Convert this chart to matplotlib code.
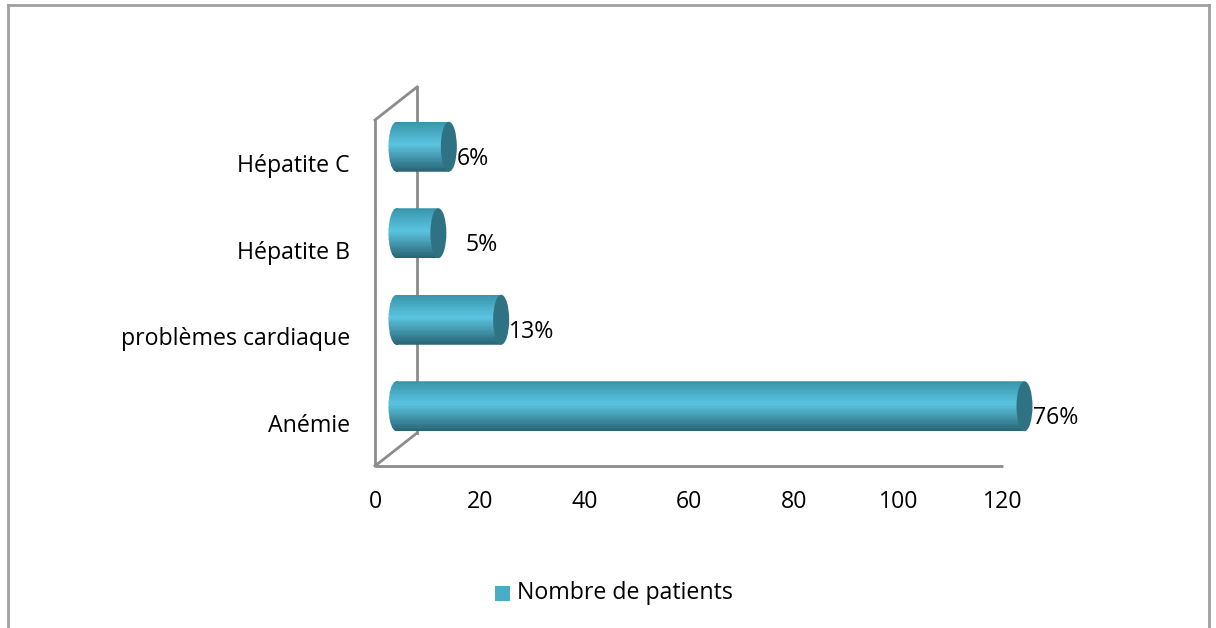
import matplotlib
matplotlib.use("Agg")
import matplotlib.pyplot as plt
import matplotlib.transforms as mtransforms
from matplotlib.patches import Rectangle, Ellipse, PathPatch
from matplotlib.path import Path
from matplotlib.lines import Line2D
import numpy as np

# Data
categories = ["Anémie", "problèmes cardiaque", "Hépatite B", "Hépatite C"]
patients = [120, 20, 8, 10]
x_ticks = [0, 20, 40, 60, 80, 100, 120]
series_name = "Nombre de patients"
label_nudge_px = [0, 0, 19, 0]

total = sum(patients)
percents = [round(100 * v / total) for v in patients]

plt.rcParams["font.family"] = ["Open Sans", "DejaVu Sans"]
FS = 16.7

W, H = 1216, 628
fig = plt.figure(figsize=(W / 100, H / 100), dpi=100)
fig.patch.set_facecolor("white")

# front plane of the 3-D plot area, in pixels
px_left, px_right, px_top, px_bottom = 375, 1003, 120, 466
ax = fig.add_axes([px_left / W, 1 - px_bottom / H,
                   (px_right - px_left) / W, (px_bottom - px_top) / H])
ax.set_xlim(0, 120)
ax.set_ylim(0, len(categories))
ax.axis("off")

px_per_unit = (px_right - px_left) / 120.0
px_per_cat = (px_bottom - px_top) / len(categories)

grey = "#8c8c8c"
depth_dx, depth_dy = 42, 33  # back wall offset (px, right / up)

def pix_offset(dx, dy):
    return ax.transData + mtransforms.ScaledTranslation(dx / 100, dy / 100, fig.dpi_scale_trans)

back = pix_offset(depth_dx, depth_dy)
# walls and floor edges
ax.plot([0, 0], [0, len(categories)], color=grey, lw=2, clip_on=False, solid_capstyle="butt")
ax.plot([0, 120], [0, 0], color=grey, lw=2, clip_on=False, solid_capstyle="butt")
ax.plot([0, 0], [0, len(categories)], color=grey, lw=2, clip_on=False, transform=back, zorder=0)
# diagonals joining front and back planes
for yv in (0, len(categories)):
    p0 = ax.transData.transform((0, yv))
    p1 = back.transform((0, yv))
    fig.add_artist(Line2D([p0[0] / W, p1[0] / W], [p0[1] / H, p1[1] / H],
                          color=grey, lw=2, transform=fig.transFigure))

# cylinders, placed at mid depth
mid = pix_offset(depth_dx / 2 + 0.5, depth_dy / 2)
bar_h = 50 / px_per_cat
cap_w = 16 / px_per_unit

top_c = np.array([0x38, 0x94, 0xaa]) / 255
mid_c = np.array([0x5a, 0xc4, 0xe0]) / 255
bot_c = np.array([0x28, 0x62, 0x72]) / 255
cap_c = "#2f7283"

def body_color(t):
    # t: 0 at bottom, 1 at top
    if t > 0.55:
        s = (t - 0.55) / 0.45
        return mid_c * (1 - s) + top_c * s
    s = t / 0.55
    return bot_c * (1 - s) + mid_c * s

n_strips = 40
for i, (cat, v) in enumerate(zip(categories, patients)):
    yc = i + 0.5
    y0 = yc - bar_h / 2
    # clip outline: rounded left end + straight body up to the cap centre
    left_el = Ellipse((0, yc), cap_w, bar_h)
    verts = [(0, y0), (v, y0), (v, y0 + bar_h), (0, y0 + bar_h), (0, y0)]
    rect_path = Path(verts, closed=True)
    el_path = left_el.get_path().transformed(left_el.get_patch_transform())
    clip_path = Path.make_compound_path(rect_path, el_path)
    clip_patch = PathPatch(clip_path, transform=mid, facecolor="none", edgecolor="none")
    ax.add_patch(clip_patch)
    for k in range(n_strips):
        t = (k + 0.5) / n_strips
        r = Rectangle((-cap_w, y0 + k * bar_h / n_strips), v + cap_w, bar_h / n_strips * 1.05,
                      facecolor=body_color(t), edgecolor="none", transform=mid, zorder=2)
        ax.add_patch(r)
        r.set_clip_path(clip_patch)
        r.set_clip_box(None)
    cap = Ellipse((v, yc), cap_w, bar_h, facecolor=cap_c, edgecolor="none",
                  transform=mid, zorder=3, clip_on=False)
    ax.add_patch(cap)
    # value label
    ax.annotate(f"{percents[i]}%", xy=(v, yc), xycoords=mid,
                xytext=(cap_w * px_per_unit / 2 + label_nudge_px[i], -12),
                textcoords="offset pixels", ha="left", va="center",
                fontsize=FS, color="black", zorder=4, annotation_clip=False)

# category labels
for i, cat in enumerate(categories):
    ax.text(-25 / px_per_unit, i + 0.5 - 3 / px_per_cat, cat, ha="right", va="center",
            fontsize=FS, color="black")

# x tick labels
for xv in x_ticks:
    ax.text(xv, -36 / px_per_cat, str(xv), ha="center", va="center", fontsize=FS, color="black")

# legend
fig.add_artist(Rectangle((495 / W, 1 - 601 / H), 15 / W, 15 / H, facecolor="#4bacc6",
                         edgecolor="none", transform=fig.transFigure))
fig.text(517 / W, 1 - 593 / H, series_name, ha="left", va="center", fontsize=FS, color="black")

# chart frame
frame_c = "#a0a0a0"
fl, fr, ft = 8 / W, 1209 / W, 1 - 5 / H
for xs, ys in (([fl, fl], [0, ft]), ([fl, fr], [ft, ft]), ([fr, fr], [ft, 0])):
    fig.add_artist(Line2D(xs, ys, color=frame_c, lw=2, transform=fig.transFigure))

fig.savefig("out.png", dpi=100, facecolor="white")
